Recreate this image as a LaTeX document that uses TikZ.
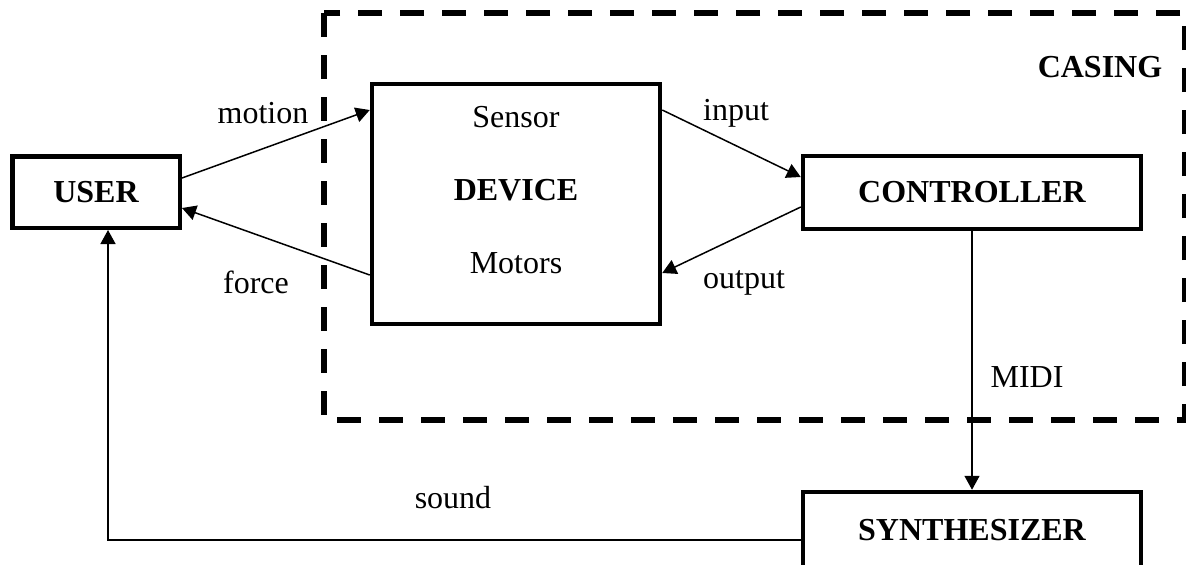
\documentclass[tikz,border=0pt]{standalone}
\usepackage{fontspec}
\setmainfont{Liberation Serif}
\usepackage{tikz}
\usetikzlibrary{arrows.meta}

\begin{document}
\begin{tikzpicture}[x=0.5pt, y=-0.5pt,
    every node/.style={font=\fontsize{16}{19}\selectfont},
    block/.style={draw, line width=2.25pt, inner sep=0pt, font=\fontsize{16}{19}\selectfont\bfseries},
    flow/.style={-{Triangle[length=7pt, width=7.5pt]}, line width=0.75pt}]
      \useasboundingbox (0,0) rectangle (1186,564);

      % Casing (dashed frame)
      \draw[line width=2.7pt, dash pattern=on 12pt off 9pt] (324,13) rectangle (1185,420);
      \node[font=\fontsize{16}{19}\selectfont\bfseries] (casing) at (1100,67) {CASING};

      % Blocks
      \node[block, minimum width=83.75pt, minimum height=35.75pt] (user) at (96,192) {USER};
      \node[block, minimum width=144pt, minimum height=120pt] (device) at (516,204) {};
      \node[block, minimum width=169pt, minimum height=36.5pt] (ctrl) at (972,192.5) {CONTROLLER};
      \node[block, minimum width=169pt, minimum height=38.5pt] (synth) at (972,530.5) {SYNTHESIZER};

      % Inside the device
      \node (sensor) at (516,117) {Sensor};
      \node[font=\fontsize{16}{19}\selectfont\bfseries] (devname) at (516,190) {DEVICE};
      \node (motors) at (516,263) {Motors};

      % Signals
      \draw[flow] ([yshift=7pt]user.east) -- ([yshift=47pt]device.west);
      \draw[flow] ([yshift=-35.5pt]device.west) -- ([yshift=-8pt]user.east);
      \draw[flow] ([yshift=47pt]device.east) -- ([yshift=7.75pt]ctrl.west);
      \draw[flow] ([yshift=-7.25pt]ctrl.west) -- ([yshift=-34.5pt]device.east);
      \draw[flow] (ctrl.south) -- (synth.north);
      \draw[flow] ([yshift=-4.75pt]synth.west) -| ([xshift=6pt]user.south);

      % Labels
      \node (motion) at (263,113) {motion};
      \node (force) at (256,282) {force};
      \node (input) at (736,113) {input};
      \node (output) at (744,283) {output};
      \node (midi) at (1027,377) {MIDI};
      \node (sound) at (453,498) {sound};
    \end{tikzpicture}
\end{document}
